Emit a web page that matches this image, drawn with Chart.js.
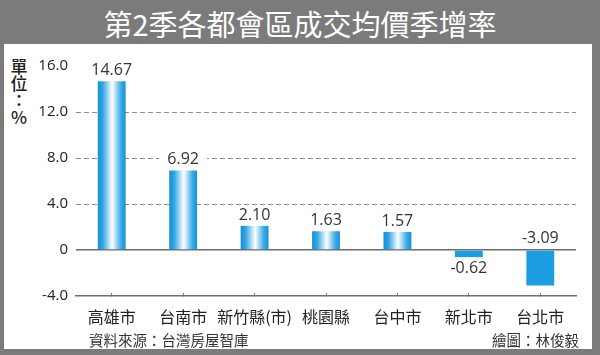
<!DOCTYPE html>
<html><head><meta charset="utf-8">
<script src="https://cdn.jsdelivr.net/npm/chart.js@4/dist/chart.umd.min.js"></script>
<style>
body{margin:0;background:#fff;}
#wrap{position:relative;width:600px;height:355px;background:#7b7b7b;overflow:hidden;font-family:"Noto Sans CJK TC","Noto Sans CJK SC",sans-serif;}
#title{position:absolute;left:0;top:0;width:600px;height:44px;line-height:46px;text-align:center;color:#fff;font-size:29px;}
#panel{position:absolute;left:4px;top:44px;width:588px;height:305px;background:#fff;}
#unit{position:absolute;left:6px;top:57px;width:26px;text-align:center;font-size:17px;line-height:17px;color:#222;font-weight:500;}
#src{position:absolute;left:89px;top:329px;font-size:14.5px;color:#333;}
#author{position:absolute;left:492px;top:329px;font-size:14.5px;color:#333;}
#cbox{position:absolute;left:0;top:44px;width:600px;height:292px;}
</style></head>
<body>
<div id="wrap">
  <div id="title">第2季各都會區成交均價季增率</div>
  <div id="panel"></div>
  <div id="unit">單<br>位<br>：<br>%</div>
  <div id="cbox"><canvas id="c"></canvas></div>
  <div id="src">資料來源：台灣房屋智庫</div>
  <div id="author">繪圖：林俊毅</div>
</div>
<script>
const categories = ['高雄市', '台南市', '新竹縣(市)', '桃園縣', '台中市', '新北市', '台北市'];
const growthRates = [14.67, 6.92, 2.10, 1.63, 1.57, -0.62, -3.09];
const yTickValues = [-4, 0, 4, 8, 12, 16];
const labelPlacement = ['outside', 'outside', 'outside', 'outside', 'outside', 'outside', 'base'];

const BAR_PCT = 0.39;
const BLUE = '#1a9de1';

function barFill(c) {
  const v = c.raw;
  const chart = c.chart;
  if (v < 0) return BLUE;
  const xs = chart.scales.x;
  if (!xs || !chart.chartArea) return BLUE;
  const cx = xs.getPixelForValue(c.dataIndex);
  const w = (xs.width / categories.length) * BAR_PCT;
  const g = chart.ctx.createLinearGradient(cx - w / 2, 0, cx + w / 2, 0);
  g.addColorStop(0, '#1590d5');
  g.addColorStop(0.18, '#31a6e5');
  g.addColorStop(0.52, '#ffffff');
  g.addColorStop(0.82, '#3eaee7');
  g.addColorStop(1, '#1590d5');
  return g;
}

const valueLabels = {
  id: 'valueLabels',
  afterDatasetsDraw(chart) {
    const ctx = chart.ctx;
    const meta = chart.getDatasetMeta(0);
    const base = chart.scales.y.getPixelForValue(0);
    ctx.save();
    ctx.font = '16px "Open Sans", sans-serif';
    ctx.textAlign = 'center';
    ctx.textBaseline = 'middle';
    meta.data.forEach((bar, i) => {
      const v = growthRates[i];
      const txt = v.toFixed(2);
      let y;
      if (labelPlacement[i] === 'base') y = base - 12;
      else y = v >= 0 ? bar.y - 10.5 : bar.y + 11;
      const w = ctx.measureText(txt).width;
      ctx.fillStyle = '#fff';
      ctx.fillRect(bar.x - w / 2 - 8, y - 7, w + 16, 14);
      ctx.fillStyle = '#333';
      ctx.fillText(txt, bar.x, y);
    });
    ctx.restore();
  }
};

new Chart(document.getElementById('c'), {
  type: 'bar',
  data: {
    labels: categories,
    datasets: [{
      data: growthRates,
      backgroundColor: barFill,
      borderWidth: 0,
      barPercentage: BAR_PCT,
      categoryPercentage: 1
    }]
  },
  options: {
    responsive: true,
    maintainAspectRatio: false,
    animation: false,
    layout: { padding: { top: 22, right: 24, bottom: 0, left: 0 } },
    plugins: { legend: { display: false }, tooltip: { enabled: false } },
    scales: {
      x: {
        afterFit(s) { s.height = 40; },
        grid: { offset: false, drawOnChartArea: false, drawTicks: true, tickLength: -3, color: '#777', lineWidth: 1 },
        border: { display: true, color: '#707070', width: 1.5 },
        ticks: { color: '#222', padding: 14, maxRotation: 0, minRotation: 0, autoSkip: false,
                 font: { family: '"Noto Sans CJK TC", sans-serif', size: 16 } }
      },
      y: {
        min: -4, max: 16,
        afterFit(s) { s.width = 76; },
        afterBuildTicks(s) { s.ticks = yTickValues.map(v => ({ value: v })); },
        border: { display: false, dash: (c) => (c.tick && c.tick.value === 0) ? [] : [5, 3] },
        grid: {
          drawTicks: false,
          color: (c) => {
            const v = c.tick ? c.tick.value : null;
            if (v === 16 || v === -4) return 'rgba(0,0,0,0)';
            if (v === 0) return '#6c6c6c';
            return '#8a8a8a';
          },
          lineWidth: (c) => (c.tick && c.tick.value === 0) ? 1.5 : 1
        },
        ticks: {
          padding: 8,
          color: '#222',
          font: { family: '"Open Sans", sans-serif', size: 15 },
          callback: (v) => v === 0 ? '0' : Number(v).toFixed(1)
        }
      }
    }
  },
  plugins: [valueLabels]
});
</script>
</body></html>
